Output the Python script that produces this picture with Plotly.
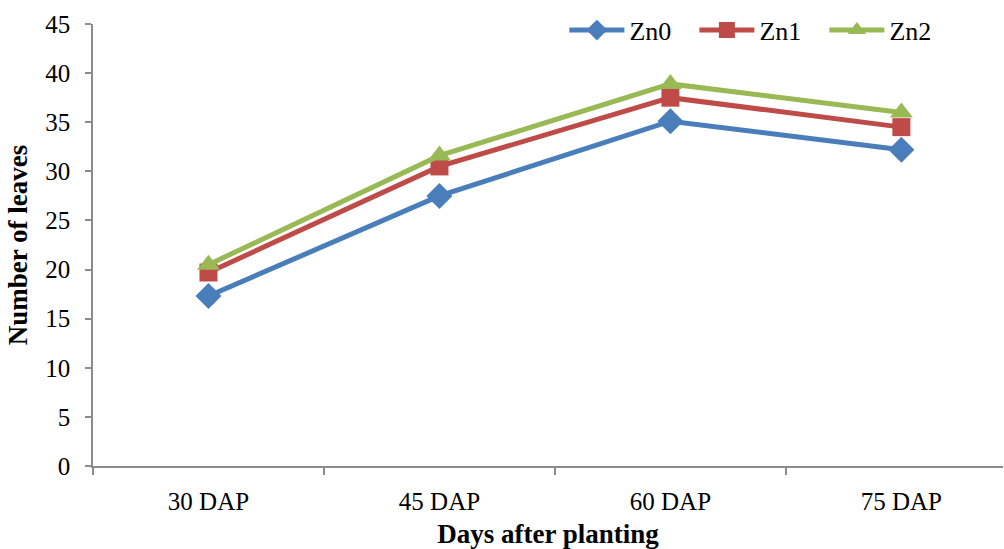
import plotly.graph_objects as go

categories = ["30 DAP", "45 DAP", "60 DAP", "75 DAP"]
zn0 = [17.3, 27.5, 35.1, 32.2]
zn1 = [19.7, 30.5, 37.5, 34.5]
zn2 = [20.5, 31.6, 38.9, 36.0]
y_ticks = [0, 5, 10, 15, 20, 25, 30, 35, 40, 45]

series = [
    ("Zn0", zn0, "#4A7EBB", "diamond", 20),
    ("Zn1", zn1, "#BE4B48", "square", 18),
    ("Zn2", zn2, "#98B954", "triangle-up", 20),
]

FONT = "Liberation Serif, Times New Roman, serif"

xpos = list(range(len(categories)))
boundaries = [i - 0.5 for i in xpos]

fig = go.Figure()
for name, vals, color, sym, size in series:
    fig.add_trace(go.Scatter(
        x=xpos, y=vals, name=name, mode="lines+markers",
        line=dict(color=color, width=5),
        marker=dict(symbol=sym, size=size, color=color),
    ))

fig.update_layout(
    width=1004, height=549,
    margin=dict(l=93, r=1, t=24, b=83),
    paper_bgcolor="white", plot_bgcolor="white",
    font=dict(family=FONT, size=25, color="black"),
    showlegend=True,
    legend=dict(
        orientation="h", x=0.518, xanchor="left", y=0.986, yanchor="middle",
        font=dict(family=FONT, size=26, color="black"),
        entrywidth=60, entrywidthmode="pixels",
        itemwidth=55, tracegroupgap=0, bgcolor="rgba(0,0,0,0)",
    ),
)

fig.update_xaxes(
    range=[-0.5, 3.44], automargin=False,
    tickvals=xpos, ticktext=categories,
    showline=True, linecolor="#8C8C8C", linewidth=1.5,
    showgrid=False, zeroline=False,
    ticks="", ticklabelstandoff=12,
    minor=dict(tickvals=boundaries, ticks="outside", ticklen=7,
               tickcolor="#8C8C8C", tickwidth=1.5, showgrid=False),
    tickfont=dict(family=FONT, size=25),
    title=dict(text="<b>Days after planting</b>", font=dict(family=FONT, size=27), standoff=13),
)
fig.update_yaxes(
    range=[0, 45], tickvals=y_ticks, automargin=False,
    showline=True, linecolor="#8C8C8C", linewidth=1.5,
    showgrid=False, zeroline=False,
    ticks="outside", ticklen=6, tickcolor="#8C8C8C", tickwidth=1.5,
    tickfont=dict(family=FONT, size=25),
    ticklabelstandoff=10,
    title=dict(text="<b>Number of leaves</b>", font=dict(family=FONT, size=27), standoff=10),
)

fig.write_html("out.html")
